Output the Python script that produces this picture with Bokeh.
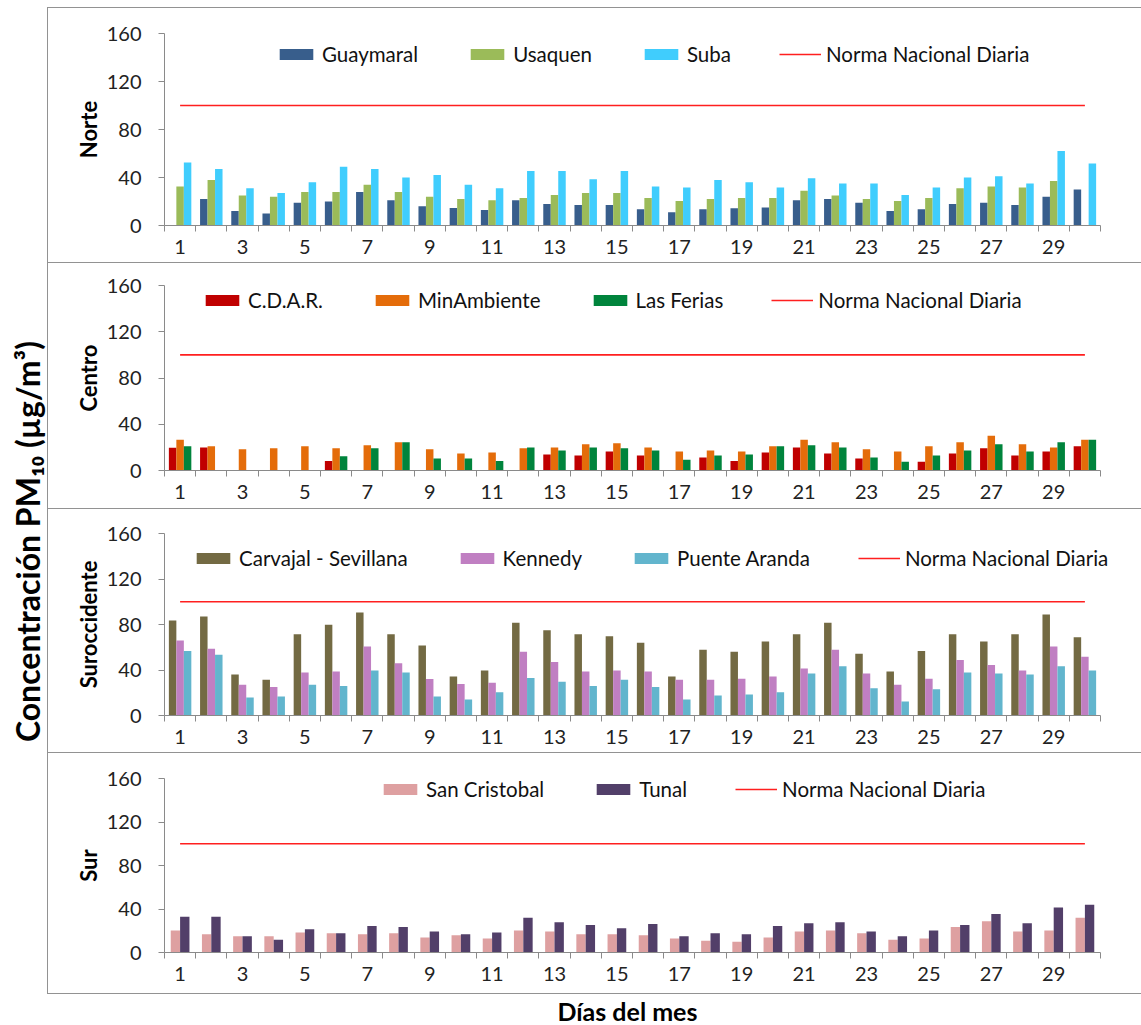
from bokeh.plotting import figure
from bokeh.layouts import column, row
from bokeh.models import ColumnDataSource, FixedTicker, Legend, LegendItem, Label, Spacer
from bokeh.transform import dodge
from bokeh.embed import file_html
from bokeh.resources import INLINE

NaN = float("nan")

days = list(range(1, 31))
odd_day_ticks = list(range(1, 30, 2))
y_ticks = [0, 40, 80, 120, 160]
norma_nacional = 100

# Norte
guaymaral = [NaN, 22, 12, 10, 19, 20, 28, 21, 16, 14.5, 13, 21, 18, 17, 17,
             13.6, 11, 13.6, 14.4, 15, 21, 22, 19, 12, 13.6, 18, 19, 17, 24, 30]
usaquen = [32.5, 38, 25, 24, 28, 28, 34, 28, 24, 22, 21, 23, 25.5, 27, 27,
           23, 20.5, 22, 23, 23, 29, 25, 22, 20.5, 23, 31, 32.5, 31.7, 37, NaN]
suba = [52.5, 47, 31, 27, 36, 49, 47, 40, 42, 34, 31, 45.5, 45.5, 38.6, 45.5,
        32.5, 31.7, 38, 36, 31.7, 39.4, 35, 35, 25.5, 31.7, 40, 41, 35, 62, 51.7]

# Centro
cdar = [19.6, 20, NaN, NaN, NaN, 8.3, NaN, NaN, NaN, NaN, NaN, NaN, 13.8, 13, 16.4,
        13, NaN, 11.2, 8.3, 15.5, 20, 14.7, 10.4, NaN, 7.5, 14.7, 19.3, 13, 16.4, 21]
minambiente = [26.5, 21, 18.4, 19.3, 21, 19.3, 21.9, 24.5, 18.4, 14.7, 15.5, 19.3, 20, 22.7, 23.6,
               20, 16.4, 17.3, 16.4, 21, 26.5, 24.5, 18.4, 16.4, 21, 24.5, 30, 22.7, 20, 26.5]
las_ferias = [21, NaN, NaN, NaN, NaN, 12.4, 19.3, 24.5, 10.4, 10.4, 8.3, 20, 17.3, 20, 19.3,
              17.3, 9.2, 13, 13.8, 21, 21.9, 20, 11.2, 7.5, 13, 17.3, 22.7, 16.4, 24.5, 26.5]

# Suroccidente
carvajal = [83.5, 87, 36, 31.4, 71.5, 79.7, 90.5, 71.5, 61.5, 34.3, 39.6, 81.5, 75, 71.5, 69.7,
            64, 34.3, 57.7, 56, 65, 71.5, 81.5, 54.2, 38.7, 56.8, 71.5, 65, 71.5, 88.8, 68.9]
kennedy = [66, 58.6, 27, 25, 37.8, 38.7, 60.7, 46, 32, 27.8, 28.7, 56, 47, 38.7, 39.6,
           38.7, 31.4, 31.4, 32.2, 34.3, 41.3, 57.7, 37, 27, 32.2, 48.7, 44.3, 39.6, 60.7, 51.6]
puente_aranda = [56.8, 53.3, 15.8, 16.7, 27, 26, 39.6, 37.8, 16.7, 14, 20.5, 33, 29.6, 26, 31.4,
                 25, 14, 17.6, 18.5, 20.5, 37, 43.4, 24, 12.3, 23.1, 37.8, 37, 36, 43.4, 39.6]

# Sur
san_cristobal = [20.3, 16.7, 14.9, 14.9, 18.5, 17.6, 16.7, 17.6, 13.7, 15.8, 12.8, 20.3, 19.4, 16.7, 16.7,
                 15.8, 12.8, 10.9, 10, 13.7, 19.4, 20.3, 17.6, 11.8, 12.8, 23.4, 28.8, 19.4, 20.3, 31.9]
tunal = [32.8, 32.8, 14.9, 11.8, 21.3, 17.6, 24.3, 23.4, 19.4, 16.7, 18.5, 31.9, 27.9, 25.2, 22.2,
         26.1, 14.9, 17.6, 16.7, 24.3, 27, 27.9, 19.4, 14.9, 20.3, 25.2, 35.5, 27, 41.3, 44]

FONT = "Lato"
AXIS_GRAY = "#8a8a8a"
BORDER = "1.5px solid #929292"

FIG_W = 1094
BORDER_L = 116
PX_PER_DAY = 936 / 30
# the frame runs to the right edge so the legends are not clipped;
# the axis itself stops at the last day
X_START = 0.5
X_END = X_START + (FIG_W - BORDER_L) / PX_PER_DAY


def make_panel(zone, labels, series, colors, height, top, bottom, legend_loc, last=False):
    p = figure(width=FIG_W, height=height, x_range=(X_START, X_END), y_range=(0, 160),
               output_backend="svg", toolbar_location=None,
               min_border_left=BORDER_L, min_border_right=0,
               min_border_top=top, min_border_bottom=bottom)
    styles = {"border-top": BORDER, "border-left": BORDER, "box-sizing": "border-box"}
    if last:
        styles["border-bottom"] = BORDER
    p.styles = styles

    data = {"day": days}
    for lab, vals in zip(labels, series):
        data[lab] = vals
    src = ColumnDataSource(data)

    n = len(series)
    bw = 0.24 if n == 3 else 0.3
    items = []
    for i, (lab, col) in enumerate(zip(labels, colors)):
        off = (i - (n - 1) / 2) * bw
        r = p.vbar(x=dodge("day", off), top=lab, width=bw, source=src,
                   fill_color=col, line_color=None)
        items.append(LegendItem(label=lab, renderers=[r]))

    ln = p.line(x=[days[0], days[-1]], y=[norma_nacional, norma_nacional],
                line_color="#ff1f1f", line_width=1.6)
    items.append(LegendItem(label="Norma Nacional Diaria", renderers=[ln]))

    leg = Legend(items=items, location=legend_loc, orientation="horizontal",
                 spacing=48, glyph_width=42, glyph_height=14, label_standoff=5,
                 label_height=25, padding=0, margin=0, border_line_color=None,
                 background_fill_alpha=0, label_text_font=FONT,
                 label_text_font_size="20.5px", label_text_color="#111111")
    p.add_layout(leg)

    p.xgrid.visible = False
    p.ygrid.visible = False
    p.outline_line_color = None

    xa = p.xaxis[0]
    xa.bounds = (0.5, 30.5)
    xa.ticker = FixedTicker(ticks=odd_day_ticks, minor_ticks=[d - 0.5 for d in days] + [30.5])
    xa.major_tick_out = 0
    xa.major_tick_in = 0
    xa.minor_tick_out = 6
    xa.minor_tick_in = 0
    xa.minor_tick_line_color = AXIS_GRAY
    xa.axis_line_color = AXIS_GRAY
    xa.major_label_standoff = 8
    xa.major_label_text_font = FONT
    xa.major_label_text_font_size = "20px"
    xa.major_label_text_color = "#222222"

    ya = p.yaxis[0]
    ya.ticker = FixedTicker(ticks=y_ticks)
    ya.major_tick_out = 6
    ya.major_tick_in = 0
    ya.minor_tick_out = 0
    ya.minor_tick_in = 0
    ya.major_tick_line_color = AXIS_GRAY
    ya.axis_line_color = AXIS_GRAY
    ya.major_label_standoff = 17
    ya.major_label_text_font = FONT
    ya.major_label_text_font_size = "20px"
    ya.major_label_text_color = "#222222"
    ya.axis_label = zone
    ya.axis_label_text_font = FONT
    ya.axis_label_text_font_style = "bold"
    ya.axis_label_text_font_size = "22px"
    ya.axis_label_text_color = "#000000"
    ya.axis_label_standoff = 2
    return p


p_norte = make_panel("Norte", ["Guaymaral", "Usaquen", "Suba"],
                     [guaymaral, usaquen, suba], ["#385e8c", "#9bbb59", "#40cdfd"],
                     255, 25, 38, (111, 159))
p_centro = make_panel("Centro", ["C.D.A.R.", "MinAmbiente", "Las Ferias"],
                      [cdar, minambiente, las_ferias], ["#c00000", "#e46c0a", "#00843c"],
                      246, 22, 39, (37, 158))
p_suroc = make_panel("Suroccidente", ["Carvajal - Sevillana", "Kennedy", "Puente Aranda"],
                     [carvajal, kennedy, puente_aranda], ["#736a43", "#c07fc2", "#62b5cd"],
                     244, 24, 38, (28, 145))
p_sur = make_panel("Sur", ["San Cristobal", "Tunal"],
                   [san_cristobal, tunal], ["#dea0a1", "#523f69"],
                   242, 25, 43, (215, 151), last=True)

# shared y title on the left
left = figure(width=47, height=1025, x_range=(0, 47), y_range=(0, 1025),
              output_backend="svg", toolbar_location=None, min_border=0,
              x_axis_location=None, y_axis_location=None)
left.xgrid.visible = False
left.ygrid.visible = False
left.outline_line_color = None
left.add_layout(Label(x=27, y=484, text="Concentración PM₁₀ (µg/m³)", angle=90,
                      angle_units="deg", text_align="center", text_baseline="middle",
                      text_font=FONT, text_font_style="bold", text_font_size="32px",
                      text_color="#000000"))

# shared x title at the bottom; its frame lines up with the panels above,
# so it uses the same day scale
bottom = figure(width=FIG_W, height=31, x_range=(X_START, X_END), y_range=(0, 31),
                output_backend="svg", toolbar_location=None, min_border=0,
                min_border_left=BORDER_L, min_border_right=0,
                x_axis_location=None, y_axis_location=None)
bottom.xgrid.visible = False
bottom.ygrid.visible = False
bottom.outline_line_color = None
bottom.add_layout(Label(x=15.37, y=15, text="Días del mes", text_align="center",
                        text_baseline="middle", text_font=FONT, text_font_style="bold",
                        text_font_size="25px", text_color="#000000"))

layout = row(left, column(Spacer(width=FIG_W, height=7), p_norte, p_centro, p_suroc, p_sur, bottom))

open("out.html", "w").write(file_html(layout, INLINE))
